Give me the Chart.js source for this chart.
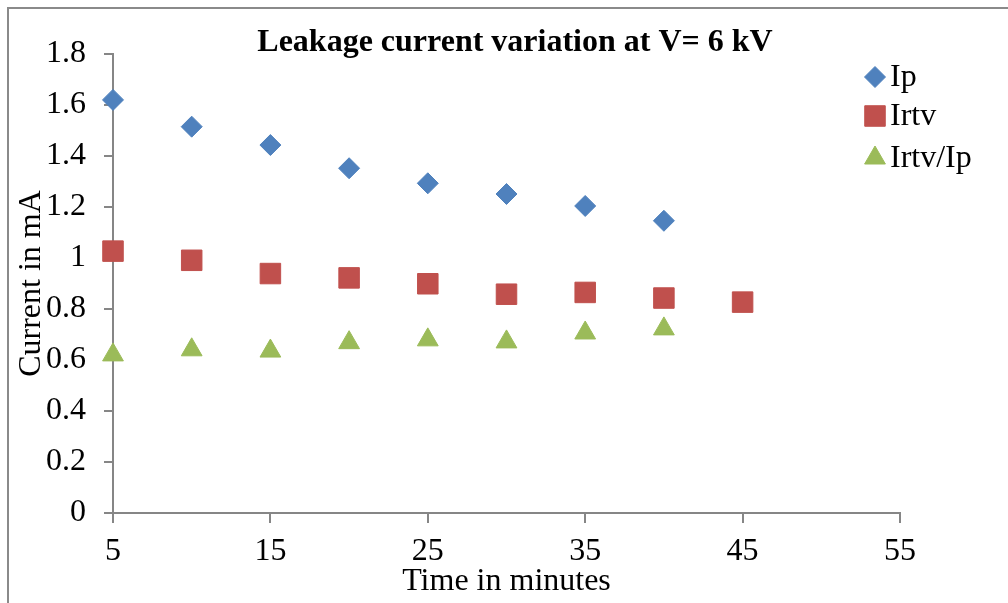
<!DOCTYPE html>
<html>
<head>
<meta charset="utf-8">
<script src="https://cdn.jsdelivr.net/npm/chart.js@4/dist/chart.umd.min.js"></script>
<style>
  html, body { margin: 0; padding: 0; background: #fff; overflow: hidden; }
  #marco { position: absolute; left: 7px; top: 7px; width: 2000px; height: 2000px;
           border-left: 2px solid #8a8a8a; border-top: 2px solid #8a8a8a; }
  #grafico { position: absolute; left: 0; top: 0; }
</style>
</head>
<body>
<div id="marco"></div>
<canvas id="grafico" width="1008" height="603"></canvas>
<script>
// datos
var tiempo = [5, 10, 15, 20, 25, 30, 35, 40, 45];
var ip = [1.62, 1.515, 1.443, 1.352, 1.293, 1.251, 1.204, 1.146];
var irtv = [1.027, 0.991, 0.939, 0.922, 0.899, 0.858, 0.865, 0.843, 0.827];
var irtvIp = [0.62, 0.64, 0.635, 0.668, 0.679, 0.671, 0.706, 0.722];
var etiquetas = ['Ip', 'Irtv', 'Irtv/Ip'];
var titulo = 'Leakage current variation at V= 6 kV';

var fuente = 'Liberation Serif, Times New Roman, serif';

function puntos(valores) {
    var lista = [];
    for (var i = 0; i < valores.length; i++) {
        lista.push({ x: tiempo[i], y: valores[i] });
    }
    return lista;
}

// titulo y leyenda dibujados a mano
var extras = {
    id: 'extras',
    afterDraw: function (chart) {
        var ctx = chart.ctx;
        ctx.save();
        ctx.fillStyle = '#000';
        ctx.font = 'bold 32px ' + fuente;
        ctx.textAlign = 'center';
        ctx.textBaseline = 'middle';
        ctx.fillText(titulo, 515, 43);

        var ys = [77, 116, 158];
        ctx.font = '32px ' + fuente;
        ctx.textAlign = 'left';
        chart.data.datasets.forEach(function (ds, i) {
            ctx.fillStyle = ds.backgroundColor;
            ctx.strokeStyle = ds.borderColor;
            ctx.lineWidth = 1;
            Chart.helpers.drawPoint(ctx, {
                pointStyle: ds.pointStyle,
                radius: ds.pointRadius,
                borderWidth: 1,
                rotation: 0
            }, 875, ys[i]);
            ctx.fillStyle = '#000';
            ctx.fillText(ds.label, 890, ys[i] + 1);
        });
        ctx.restore();
    }
};

var ctx = document.getElementById('grafico').getContext('2d');
var chart = new Chart(ctx, {
    type: 'scatter',
    data: {
        datasets: [
            { label: etiquetas[0], data: puntos(ip), pointStyle: 'rectRot', pointRadius: 10.5,
              backgroundColor: '#4F81BD', borderColor: '#4F81BD', clip: false },
            { label: etiquetas[1], data: puntos(irtv), pointStyle: 'rect', pointRadius: 14.5,
              backgroundColor: '#C0504D', borderColor: '#C0504D', clip: false },
            { label: etiquetas[2], data: puntos(irtvIp), pointStyle: 'triangle', pointRadius: 12,
              backgroundColor: '#9BBB59', borderColor: '#9BBB59', clip: false }
        ]
    },
    options: {
        responsive: false,
        animation: false,
        layout: { padding: { top: 54, right: 108, left: 0, bottom: 0 } },
        plugins: {
            legend: { display: false },
            title: { display: false },
            tooltip: { enabled: false }
        },
        scales: {
            x: {
                type: 'linear',
                min: 5, max: 55,
                afterFit: function (s) { s.height = 90; },
                ticks: { stepSize: 10, color: '#000', padding: 9, font: { family: fuente, size: 32 } },
                grid: { drawOnChartArea: false, drawTicks: true, tickLength: 10, color: '#868686', lineWidth: 2 },
                border: { color: '#868686', width: 2 },
                title: { display: true, text: 'Time in minutes', color: '#000', padding: 2,
                         font: { family: fuente, size: 32 } }
            },
            y: {
                min: 0, max: 1.8,
                afterFit: function (s) { s.width = 113; },
                ticks: { stepSize: 0.2, color: '#000', padding: 18, font: { family: fuente, size: 32 },
                         callback: function (v) { return String(Math.round(v * 10) / 10); } },
                grid: { drawOnChartArea: false, drawTicks: true, tickLength: 9, color: '#868686', lineWidth: 2 },
                border: { color: '#868686', width: 2 },
                title: { display: true, text: 'Current in mA', color: '#000', padding: { top: 12 },
                         font: { family: fuente, size: 32 } }
            }
        }
    },
    plugins: [extras]
});
</script>
</body>
</html>
